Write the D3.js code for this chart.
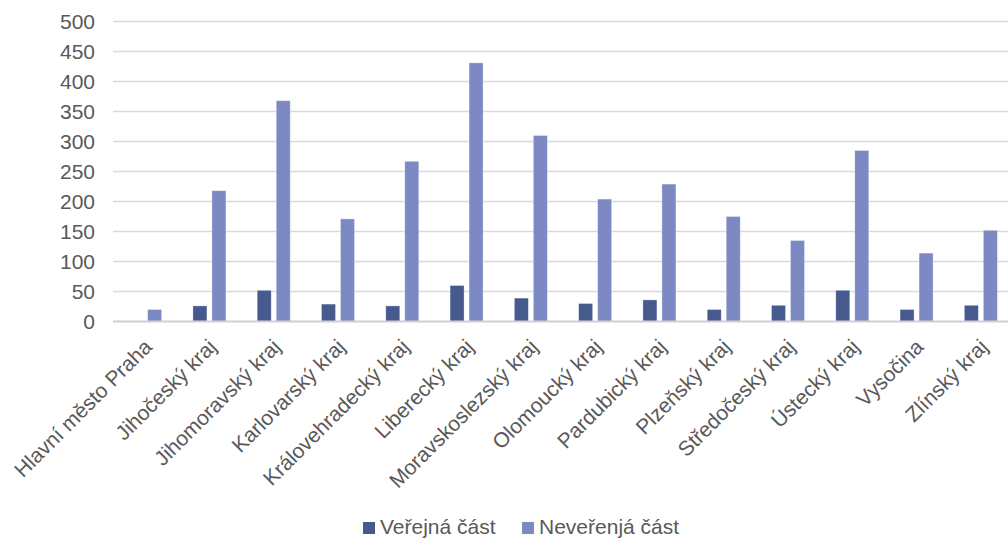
<!DOCTYPE html>
<html>
<head>
<meta charset="utf-8">
<script src="https://cdn.jsdelivr.net/npm/d3@7"></script>
<style>
  body { margin: 0; background: #fff; }
  text { font-family: "Liberation Sans", Arial, sans-serif; fill: #595959; }
</style>
</head>
<body>
<div id="chart"></div>
<script>
// Chart data
var regions = [
  "Hlavní město Praha", "Jihočeský kraj", "Jihomoravský kraj", "Karlovarský kraj",
  "Královehradecký kraj", "Liberecký kraj", "Moravskoslezský kraj", "Olomoucký kraj",
  "Pardubický kraj", "Plzeňský kraj", "Středočeský kraj", "Ústecký kraj",
  "Vysočina", "Zlínský kraj"
];
var verejna = [0, 26, 52, 29, 26, 60, 39, 30, 36, 20, 27, 52, 20, 27];
var neverejna = [20, 218, 368, 171, 267, 431, 310, 204, 229, 175, 135, 285, 114, 152];
var yTicks = [0, 50, 100, 150, 200, 250, 300, 350, 400, 450, 500];
var seriesNames = ["Veřejná část", "Neveřenjá část"];
var colors = ["#475a8e", "#7d89c3"];

var width = 1008;
var height = 538;

var svg = d3
  .select("#chart")
  .append("svg")
  .attr("width", width)
  .attr("height", height);

var xScale = d3.scaleBand().domain(regions).range([113, 1013]).padding(0);
var yScale = d3.scaleLinear().domain([0, 500]).range([321.5, 21.5]);

var barW = 14;
var gap = 5;

// gridlines
svg
  .append("g")
  .selectAll("line")
  .data(yTicks.filter(function(d) { return d > 0; }))
  .enter()
  .append("line")
  .attr("x1", 113)
  .attr("x2", 1008)
  .attr("y1", function(d) { return yScale(d); })
  .attr("y2", function(d) { return yScale(d); })
  .attr("stroke", "#d9d9d9")
  .attr("stroke-width", 1.3);

// y axis labels
var yAxis = d3.axisLeft(yScale).tickValues(yTicks).tickSize(0).tickPadding(0);
var yG = svg
  .append("g")
  .attr("transform", "translate(95,0)")
  .call(yAxis);
yG.select(".domain").remove();
yG.selectAll("text")
  .style("font-size", "21px")
  .style("font-family", "'Liberation Sans', Arial, sans-serif")
  .attr("fill", "#595959");

// bars
var groups = svg
  .append("g")
  .selectAll("g")
  .data(regions)
  .enter()
  .append("g")
  .attr("transform", function(d) {
    return "translate(" + (xScale(d) + xScale.bandwidth() / 2) + ",0)";
  });

groups
  .append("rect")
  .attr("x", -gap / 2 - barW)
  .attr("width", barW)
  .attr("y", function(d, i) { return yScale(verejna[i]); })
  .attr("height", function(d, i) { return yScale(0) - yScale(verejna[i]); })
  .attr("fill", colors[0])
  .attr("stroke", "#fff")
  .attr("stroke-opacity", 0.4)
  .attr("stroke-width", 0.8);

groups
  .append("rect")
  .attr("x", gap / 2)
  .attr("width", barW)
  .attr("y", function(d, i) { return yScale(neverejna[i]); })
  .attr("height", function(d, i) { return yScale(0) - yScale(neverejna[i]); })
  .attr("fill", colors[1])
  .attr("stroke", "#fff")
  .attr("stroke-opacity", 0.4)
  .attr("stroke-width", 0.8);

// baseline
svg
  .append("line")
  .attr("x1", 113)
  .attr("x2", 1008)
  .attr("y1", yScale(0))
  .attr("y2", yScale(0))
  .attr("stroke", "#d0d0d0")
  .attr("stroke-width", 2);

// x labels
groups
  .append("text")
  .attr("transform", "translate(3,343)rotate(-45)")
  .attr("text-anchor", "end")
  .attr("dy", "0.35em")
  .style("font-size", "21px")
  .text(function(d) { return d; });

// legend
var legend = svg.append("g").attr("transform", "translate(363,522)");
var legendX = [0, 159];
seriesNames.forEach(function(name, i) {
  legend
    .append("rect")
    .attr("x", legendX[i])
    .attr("y", 0)
    .attr("width", 12)
    .attr("height", 12)
    .attr("fill", colors[i]);
  legend
    .append("text")
    .attr("x", legendX[i] + 17)
    .attr("y", 12)
    .style("font-size", "21px")
    .text(name);
});
</script>
</body>
</html>
